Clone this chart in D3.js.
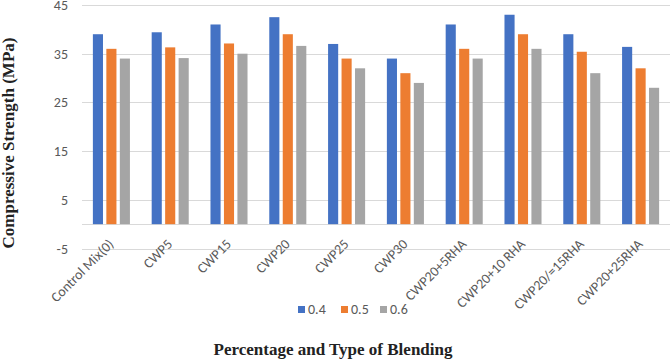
<!DOCTYPE html>
<html>
<head>
<meta charset="utf-8">
<script src="https://cdn.jsdelivr.net/npm/d3@7"></script>
<style>
  body { margin: 0; background: #fff; }
  .tick-label { font-family: Calibri, Carlito, "Open Sans", sans-serif; fill: #595959; font-size: 14px; }
  .title { font-family: "Liberation Serif", "Times New Roman", serif; font-weight: bold; fill: #222; font-size: 17px; }
</style>
</head>
<body>
<svg id="chart" width="671" height="360"></svg>
<script>
// categories and series
var categories = ['Control Mix(0)', 'CWP5', 'CWP15', 'CWP20', 'CWP25', 'CWP30',
  'CWP20+5RHA', 'CWP20+10 RHA', 'CWP20/=15RHA', 'CWP20+25RHA'];
var seriesNames = ['0.4', '0.5', '0.6'];
var s04 = [39, 39.4, 41, 42.5, 37, 34, 41, 43, 39, 36.4];
var s05 = [36, 36.3, 37.1, 39, 34, 31, 36, 39, 35.4, 32];
var s06 = [34, 34.1, 35, 36.6, 32, 29, 34, 36, 31, 28];
var yTicks = [-5, 5, 15, 25, 35, 45];
var colors = ['#4472c4', '#ed7d31', '#a5a5a5'];

var series = [s04, s05, s06];
var svg = d3.select('#chart');

// plot box (note: "top" is reserved on window, so use a margin object)
var plot = { left: 82, right: 670, top: 5, bottom: 248.5 };

var y = d3.scaleLinear().domain([-5, 45]).range([plot.bottom, plot.top]);
var x = d3.scaleBand().domain(categories).range([plot.left, plot.right]).paddingInner(0.37).paddingOuter(0.185);
var xs = d3.scaleBand().domain(seriesNames).range([0, x.bandwidth()]).paddingInner(0.25);

// gridlines, including the zero line
svg.append('g').selectAll('line')
  .data(yTicks.concat([0]))
  .enter().append('line')
  .attr('x1', plot.left).attr('x2', plot.right)
  .attr('y1', function(d) { return Math.round(y(d)) + 0.5; })
  .attr('y2', function(d) { return Math.round(y(d)) + 0.5; })
  .attr('stroke', '#d9d9d9').attr('stroke-width', 1.2);

svg.append('g').selectAll('text')
  .data(yTicks)
  .enter().append('text')
  .attr('class', 'tick-label')
  .attr('x', 68).attr('y', function(d) { return y(d) + 5; })
  .attr('text-anchor', 'end')
  .text(function(d) { return d; });

// bars
var groups = svg.append('g').selectAll('g')
  .data(categories)
  .enter().append('g')
  .attr('transform', function(d) { return 'translate(' + x(d) + ',0)'; });

groups.selectAll('rect')
  .data(function(d, i) { return series.map(function(s, k) { return { k: k, v: s[i] }; }); })
  .enter().append('rect')
  .attr('x', function(d) { return xs(seriesNames[d.k]); })
  .attr('width', xs.bandwidth())
  .attr('y', function(d) { return y(d.v); })
  .attr('height', function(d) { return y(0) - y(d.v); })
  .attr('fill', function(d) { return colors[d.k]; });

// category labels, rotated
svg.append('g').selectAll('text')
  .data(categories)
  .enter().append('text')
  .attr('class', 'tick-label')
  .attr('text-anchor', 'end')
  .attr('transform', function(d) {
    return 'translate(' + (x(d) + x.bandwidth() / 2 + 3) + ',' + 245 + ') rotate(-45)';
  })
  .text(function(d) { return d; });

// legend
var legendX = [298, 341, 380];
var legend = svg.append('g').selectAll('g')
  .data(seriesNames)
  .enter().append('g')
  .attr('transform', function(d, i) { return 'translate(' + legendX[i] + ',306)'; });
legend.append('rect').attr('width', 7).attr('height', 7).attr('fill', function(d, i) { return colors[i]; });
legend.append('text').attr('class', 'tick-label').attr('x', 10).attr('y', 8).text(function(d) { return d; });

// axis titles
svg.append('text').attr('class', 'title')
  .attr('x', 333).attr('y', 355).attr('text-anchor', 'middle')
  .text('Percentage and Type of Blending');

svg.append('text').attr('class', 'title')
  .attr('transform', 'translate(14,143) rotate(-90)')
  .attr('text-anchor', 'middle')
  .text('Compressive Strength (MPa)');
</script>
</body>
</html>
